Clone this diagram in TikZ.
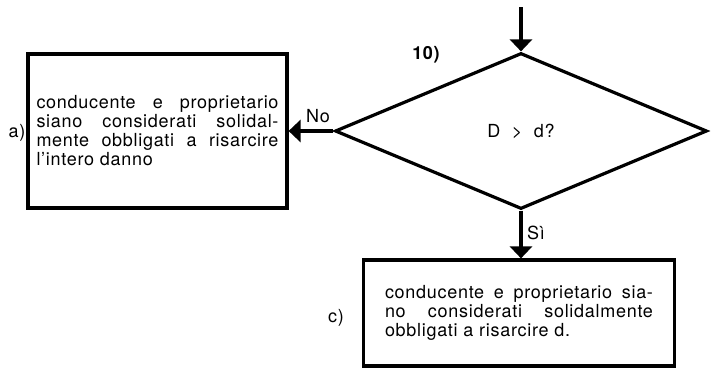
\documentclass[tikz,border=0pt]{standalone}
\usepackage{fontspec}
\setmainfont{TeX Gyre Heros}[LetterSpace=4]
\usetikzlibrary{arrows.meta,shapes.geometric}

\begin{document}
\begin{tikzpicture}[x=1pt,y=-1pt,font=\fontsize{18}{19}\selectfont,
  box/.style={draw,line width=3.2pt,align=justify,inner xsep=8.5pt,inner ysep=0pt},
  flow/.style={line width=3.2pt,-{Triangle[width=22pt,length=12pt]}}]
\path[use as bounding box] (0,0) rectangle (713,375);
\node[draw,diamond,line width=3.2pt,minimum width=372pt,minimum height=156pt,inner sep=0pt] (q) at (521,131) {D\ \ >\ \ d?};
\node[box,text width=242pt,minimum width=259pt,minimum height=154pt] (a) at (157.5,131) {conducente e proprietario\linebreak siano considerati solidal-\linebreak mente obbligati a risarcire\linebreak l'intero danno};
\node[box,text width=268pt,minimum width=311pt,minimum height=106pt] (c) at (519,313) {conducente e proprietario sia-\linebreak no considerati solidalmente\linebreak obbligati a risarcire d.};
\node (la) at (17,133) {a)};
\node (lc) at (336,318) {c)};
\node (no) at (318,116) {No};
\node (si) at (536,233) {Sì};
\node[font=\fontsize{18}{19}\selectfont\bfseries] (num) at (426,55) {10)};
\coordinate (in) at (521,7);
\draw[flow] (in) -- (q.north);
\draw[flow] (q.west) -- (a.east);
\draw[flow] (q.south) -- (q.south |- c.north);
\end{tikzpicture}
\end{document}
